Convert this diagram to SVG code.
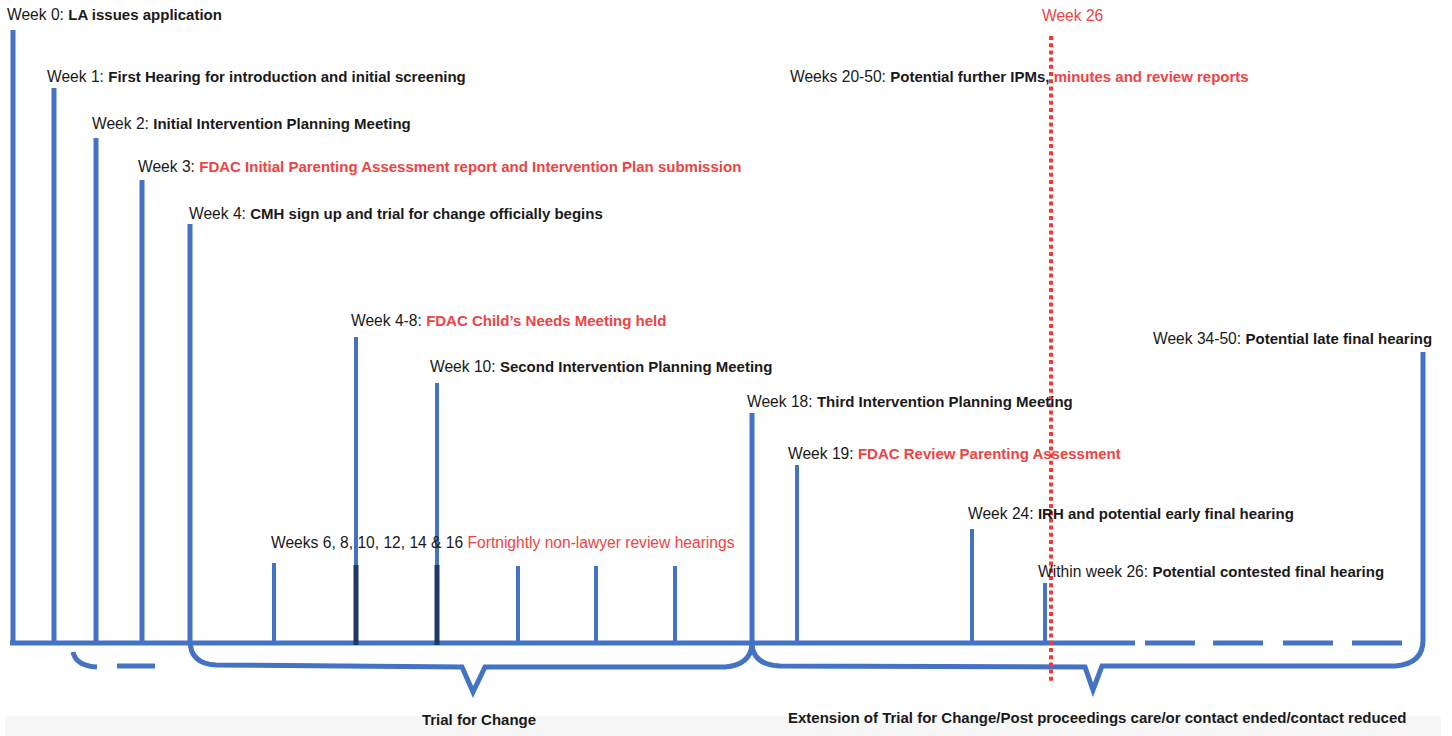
<svg xmlns="http://www.w3.org/2000/svg" width="1452" height="736" viewBox="0 0 1452 736">
<style>
text{font-family:"Liberation Sans",Arial,sans-serif;font-size:15.6px;fill:#1a1a1a}
.b{font-weight:bold;font-size:15px}
.r{fill:#f04343}
.ln{stroke:#4472c4;stroke-width:5;fill:none}
.dk{stroke:#1f3864;stroke-width:5;fill:none}
.th{stroke:#4472c4;stroke-width:4;fill:none}
</style>
<rect x="5" y="716" width="1436" height="20" fill="#f7f7f7"/>
<g id="connectors">
<path class="ln" d="M10 643 H1135"/>
<path class="ln" d="M1145 643 H1195 M1213 643 H1263 M1283 643 H1333 M1352 643 H1402"/>
<path class="ln" d="M13 30 V643"/>
<path class="ln" d="M54 88 V643"/>
<path class="ln" d="M96 138 V643"/>
<path class="ln" d="M142 180 V643"/>
<path class="ln" d="M190 224 V640 Q190 664 216 665 L462 667 L473 692 L485 667 L725 667 Q750 665 752 645"/>
<path class="ln" d="M752 413 V645 Q754 665 780 666 L1085 667 L1093 690 L1102 666 L1395 666 Q1423 664 1423 640 V352"/>
<path class="ln" d="M73 652 Q76 666 97 667 M117 666 H155"/>
<path class="th" d="M274 563 V643"/>
<path class="th" d="M356 337 V566"/>
<path class="dk" d="M356 565 V645"/>
<path class="th" d="M437 383 V566"/>
<path class="dk" d="M437 565 V645"/>
<path class="th" d="M518 566 V643"/>
<path class="th" d="M596 566 V643"/>
<path class="th" d="M675 566 V643"/>
<path class="th" d="M797 465 V643"/>
<path class="th" d="M972 529 V643"/>
<path class="th" d="M1045 583 V643"/>
<path d="M1051 36 V682" stroke="#f23a3a" stroke-width="4" stroke-dasharray="4 3.2" fill="none"/>
</g>
<g id="w0"><text x="7" y="20">Week 0: <tspan class="b">LA issues application</tspan></text></g>
<g id="w1"><text x="47" y="82">Week 1: <tspan class="b">First Hearing for introduction and initial screening</tspan></text></g>
<g id="w2"><text x="92" y="129">Week 2: <tspan class="b">Initial Intervention Planning Meeting</tspan></text></g>
<g id="w3"><text x="138" y="172">Week 3: <tspan class="b r">FDAC Initial Parenting Assessment report and Intervention Plan submission</tspan></text></g>
<g id="w4"><text x="189" y="219">Week 4: <tspan class="b">CMH sign up and trial for change officially begins</tspan></text></g>
<g id="w48"><text x="351" y="326">Week 4-8: <tspan class="b r">FDAC Child’s Needs Meeting held</tspan></text></g>
<g id="w10"><text x="430" y="372">Week 10: <tspan class="b">Second Intervention Planning Meeting</tspan></text></g>
<g id="w18"><text x="747" y="407">Week 18: <tspan class="b">Third Intervention Planning Meeting</tspan></text></g>
<g id="w19"><text x="788" y="459">Week 19: <tspan class="b r">FDAC Review Parenting Assessment</tspan></text></g>
<g id="w24"><text x="968" y="519">Week 24: <tspan class="b">IRH and potential early final hearing</tspan></text></g>
<g id="w26c"><text x="1038" y="577">Within week 26: <tspan class="b">Potential contested final hearing</tspan></text></g>
<g id="w6"><text x="271" y="548">Weeks 6, 8, 10, 12, 14 &amp; 16 <tspan class="r">Fortnightly non-lawyer review hearings</tspan></text></g>
<g id="w34"><text x="1153" y="344">Week 34-50: <tspan class="b">Potential late final hearing</tspan></text></g>
<g id="w20"><text x="790" y="82">Weeks 20-50: <tspan class="b">Potential further IPMs, </tspan><tspan class="b r">minutes and review reports</tspan></text></g>
<g id="w26"><text x="1042" y="21" class="r">Week 26</text></g>
<g id="trial"><text x="479" y="725" class="b" text-anchor="middle">Trial for Change</text></g>
<g id="ext"><text x="788" y="723" class="b">Extension of Trial for Change/Post proceedings care/or contact ended/contact reduced</text></g>
</svg>
